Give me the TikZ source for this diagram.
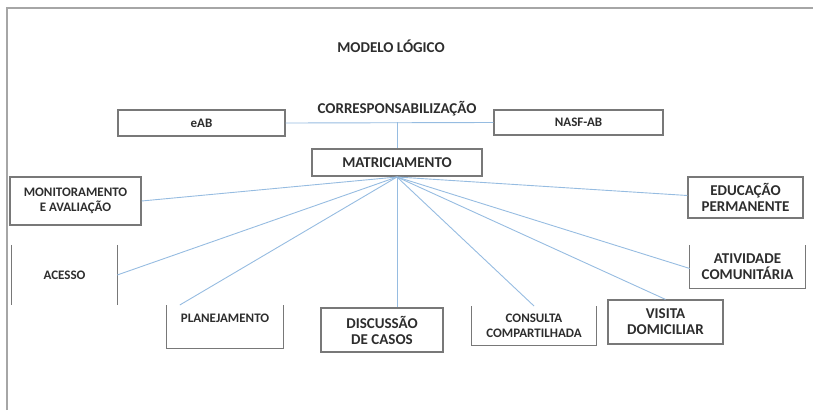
\documentclass[tikz,border=0pt]{standalone}
\usepackage{fontspec}
\setmainfont{Carlito}
\begin{document}
\begin{tikzpicture}[x=1pt,y=-1pt]
\definecolor{lnk}{RGB}{150,188,225}
\definecolor{bord}{RGB}{120,120,120}
\definecolor{txt}{RGB}{45,45,45}
\tikzset{
  big/.style={font=\fontsize{15}{16}\selectfont\bfseries, text=txt, align=center, inner sep=0pt},
  small/.style={font=\fontsize{13}{15.5}\selectfont\bfseries, text=txt, align=center, inner sep=0pt},
  fullbox/.style={draw=bord, line width=1.2pt},
  side/.style={draw=bord, line width=1.2pt},
  link/.style={draw=lnk, line width=0.9pt},
  frame/.style={draw=black!35, line width=1.6pt}
}
\useasboundingbox (0,0) rectangle (813,410);
\draw[frame] (7,410) -- (7,8) -- (813,8);

\node[big] (title) at (391,46) {MODELO LÓGICO};
\node[big] (corr) at (397,109) {CORRESPONSABILIZAÇÃO};

\node[small, fullbox, minimum width=167pt, minimum height=26pt] (eab) at (201.5,123) {eAB};
\node[small, fullbox, minimum width=169pt, minimum height=25pt] (nasf) at (578.5,122.5) {NASF-AB};
\node[big, fullbox, minimum width=170pt, minimum height=27pt] (matr) at (397,162.5) {MATRICIAMENTO};
\coordinate (hub) at (397,177);
\coordinate (mid) at (397,122);

\draw[link] (eab.east) -- (nasf.west);
\draw[link] (mid) -- (matr.north);

\node[small, fullbox, minimum width=131pt, minimum height=48pt] (mon) at (75.5,201) {MONITORAMENTO\\E AVALIAÇÃO};
\node[big, fullbox, minimum width=115pt, minimum height=41pt] (edu) at (745.5,197.5) {EDUCAÇÃO\\PERMANENTE};
\node[big, fullbox, minimum width=122pt, minimum height=44pt] (disc) at (382,330) {DISCUSSÃO\\DE CASOS};
\node[big, fullbox, minimum width=115pt, minimum height=44pt] (vis) at (665.5,322) {VISITA\\DOMICILIAR};

% open boxes
\node[small, minimum width=105pt, minimum height=60pt] (ace) at (64.5,275) {ACESSO};
\draw[side] (ace.north west) -- (ace.south west);
\draw[side] (ace.north east) -- (ace.south east);

\node[small, minimum width=116pt, minimum height=43pt, anchor=north] (plan) at (225,305) {};
\node[small] (plant) at (225,318) {PLANEJAMENTO};
\draw[side] (plan.north west) -- (plan.south west) -- (plan.south east) -- (plan.north east);

\node[small, minimum width=124pt, minimum height=39pt, anchor=north] (cons) at (534,306) {};
\node[small] (const) at (534,326) {CONSULTA\\COMPARTILHADA};
\draw[side] (cons.north west) -- (cons.south west) -- (cons.south east) -- (cons.north east);

\node[big, minimum width=115pt, minimum height=43pt] (ativ) at (747.5,266.5) {ATIVIDADE\\COMUNITÁRIA};
\draw[side] (ativ.north west) -- (ativ.south west) -- (ativ.south east) -- (ativ.north east);

% fan
\draw[link] (hub) -- (mon.east);
\draw[link] (hub) -- (ace.east);
\draw[link] (hub) -- ([xshift=13pt]plan.north west);
\draw[link] (hub) -- (disc.north -| hub);
\draw[link] (hub) -- (cons.north);
\draw[link] (hub) -- (vis.north);
\draw[link] (hub) -- ([yshift=-2pt]ativ.west);
\draw[link] (hub) -- ([yshift=2pt]edu.west);
\end{tikzpicture}
\end{document}
